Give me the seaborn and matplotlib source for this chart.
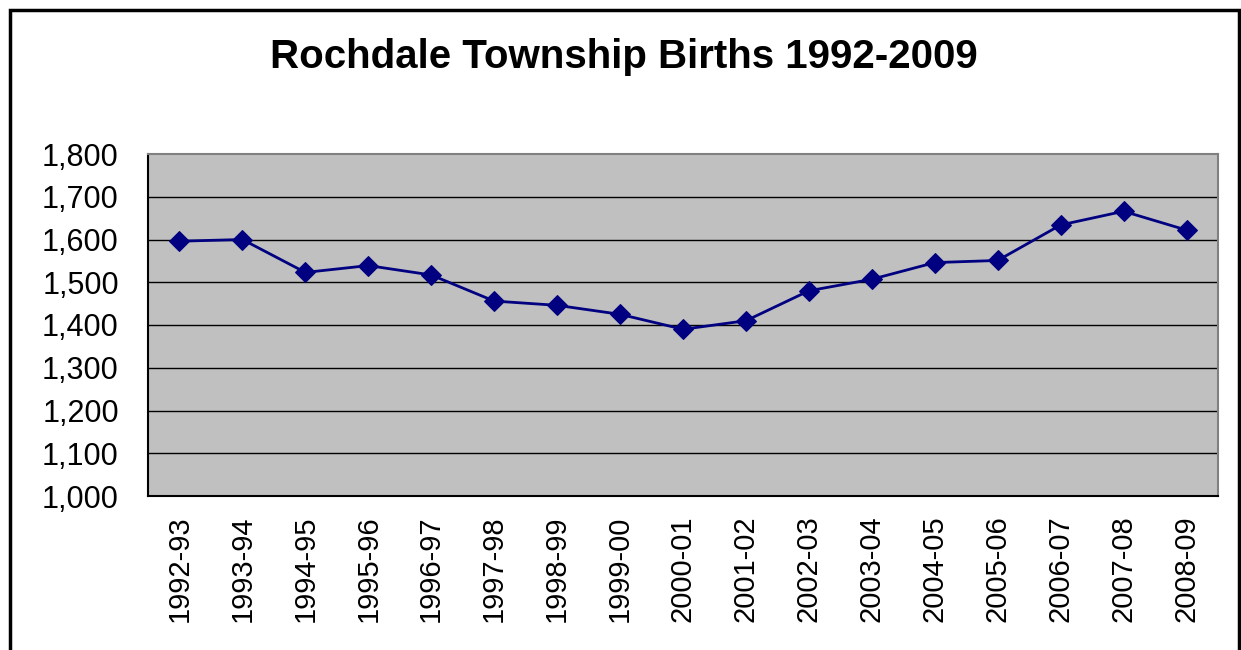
import numpy as np
import pandas as pd
import matplotlib
matplotlib.use("Agg")
import matplotlib.pyplot as plt
import seaborn as sns
from matplotlib.patches import Rectangle
from matplotlib.ticker import FuncFormatter, FixedLocator

years = ["1992-93", "1993-94", "1994-95", "1995-96", "1996-97", "1997-98",
         "1998-99", "1999-00", "2000-01", "2001-02", "2002-03", "2003-04",
         "2004-05", "2005-06", "2006-07", "2007-08", "2008-09"]
births = [1596, 1600, 1523, 1539, 1517, 1456, 1446, 1425, 1390, 1410,
          1480, 1507, 1546, 1551, 1634, 1666, 1622]

df = pd.DataFrame({"year": years, "births": births})

sns.set_style("white")
plt.rcParams["font.family"] = ["Liberation Sans", "DejaVu Sans"]
plt.rcParams["text.color"] = "black"
plt.rcParams["xtick.color"] = "black"
plt.rcParams["ytick.color"] = "black"

fig = plt.figure(figsize=(12.41, 6.5), dpi=100)
ax = fig.add_axes([148 / 1241, 1 - 496 / 650, (1218 - 148) / 1241, (496 - 154) / 650])
ax.set_facecolor("#c0c0c0")

sns.lineplot(data=df, x="year", y="births", sort=False, ax=ax, color="#000080",
             linewidth=2, marker="D", markersize=10, markeredgecolor="#000080")

ax.set_ylim(1000, 1800)
ax.set_yticks(range(1000, 1801, 100))
ax.yaxis.set_major_formatter(FuncFormatter(lambda v, p: f"{int(v):,}"))
for v in range(1100, 1800, 100):
    ax.axhline(v, color="black", linewidth=1, zorder=0.5)

ax.set_xlim(-0.5, len(years) - 0.5)
ax.set_xticks(range(len(years)))
ax.set_xticklabels(years, rotation=90)
ax.xaxis.set_minor_locator(FixedLocator(np.arange(-0.5, len(years), 1)))
ax.tick_params(axis="x", which="major", length=0, pad=14, labelsize=21)
ax.tick_params(axis="x", which="minor", length=10, width=1, color="black", direction="out")
ax.tick_params(axis="y", which="major", length=8, width=1, color="black",
               direction="out", labelsize=22, pad=13)
ax.set_xlabel("")
ax.set_ylabel("")

ax.spines["left"].set_color("black")
ax.spines["bottom"].set_color("black")
ax.spines["top"].set_color("#808080")
ax.spines["right"].set_color("#808080")
for s in ax.spines.values():
    s.set_linewidth(1.5)
    s.set_visible(True)

fig.text(0.503, 1 - 57 / 650, "Rochdale Township Births 1992-2009", ha="center",
         va="center", fontsize=29, fontweight="bold", color="black")

# outer chart frame
fig.patches.append(Rectangle((10 / 1241, -0.05), 1229 / 1241, 1 - 10 / 650 + 0.05,
                             transform=fig.transFigure, fill=False,
                             edgecolor="black", linewidth=2.5))

fig.savefig("out.png", dpi=100)
